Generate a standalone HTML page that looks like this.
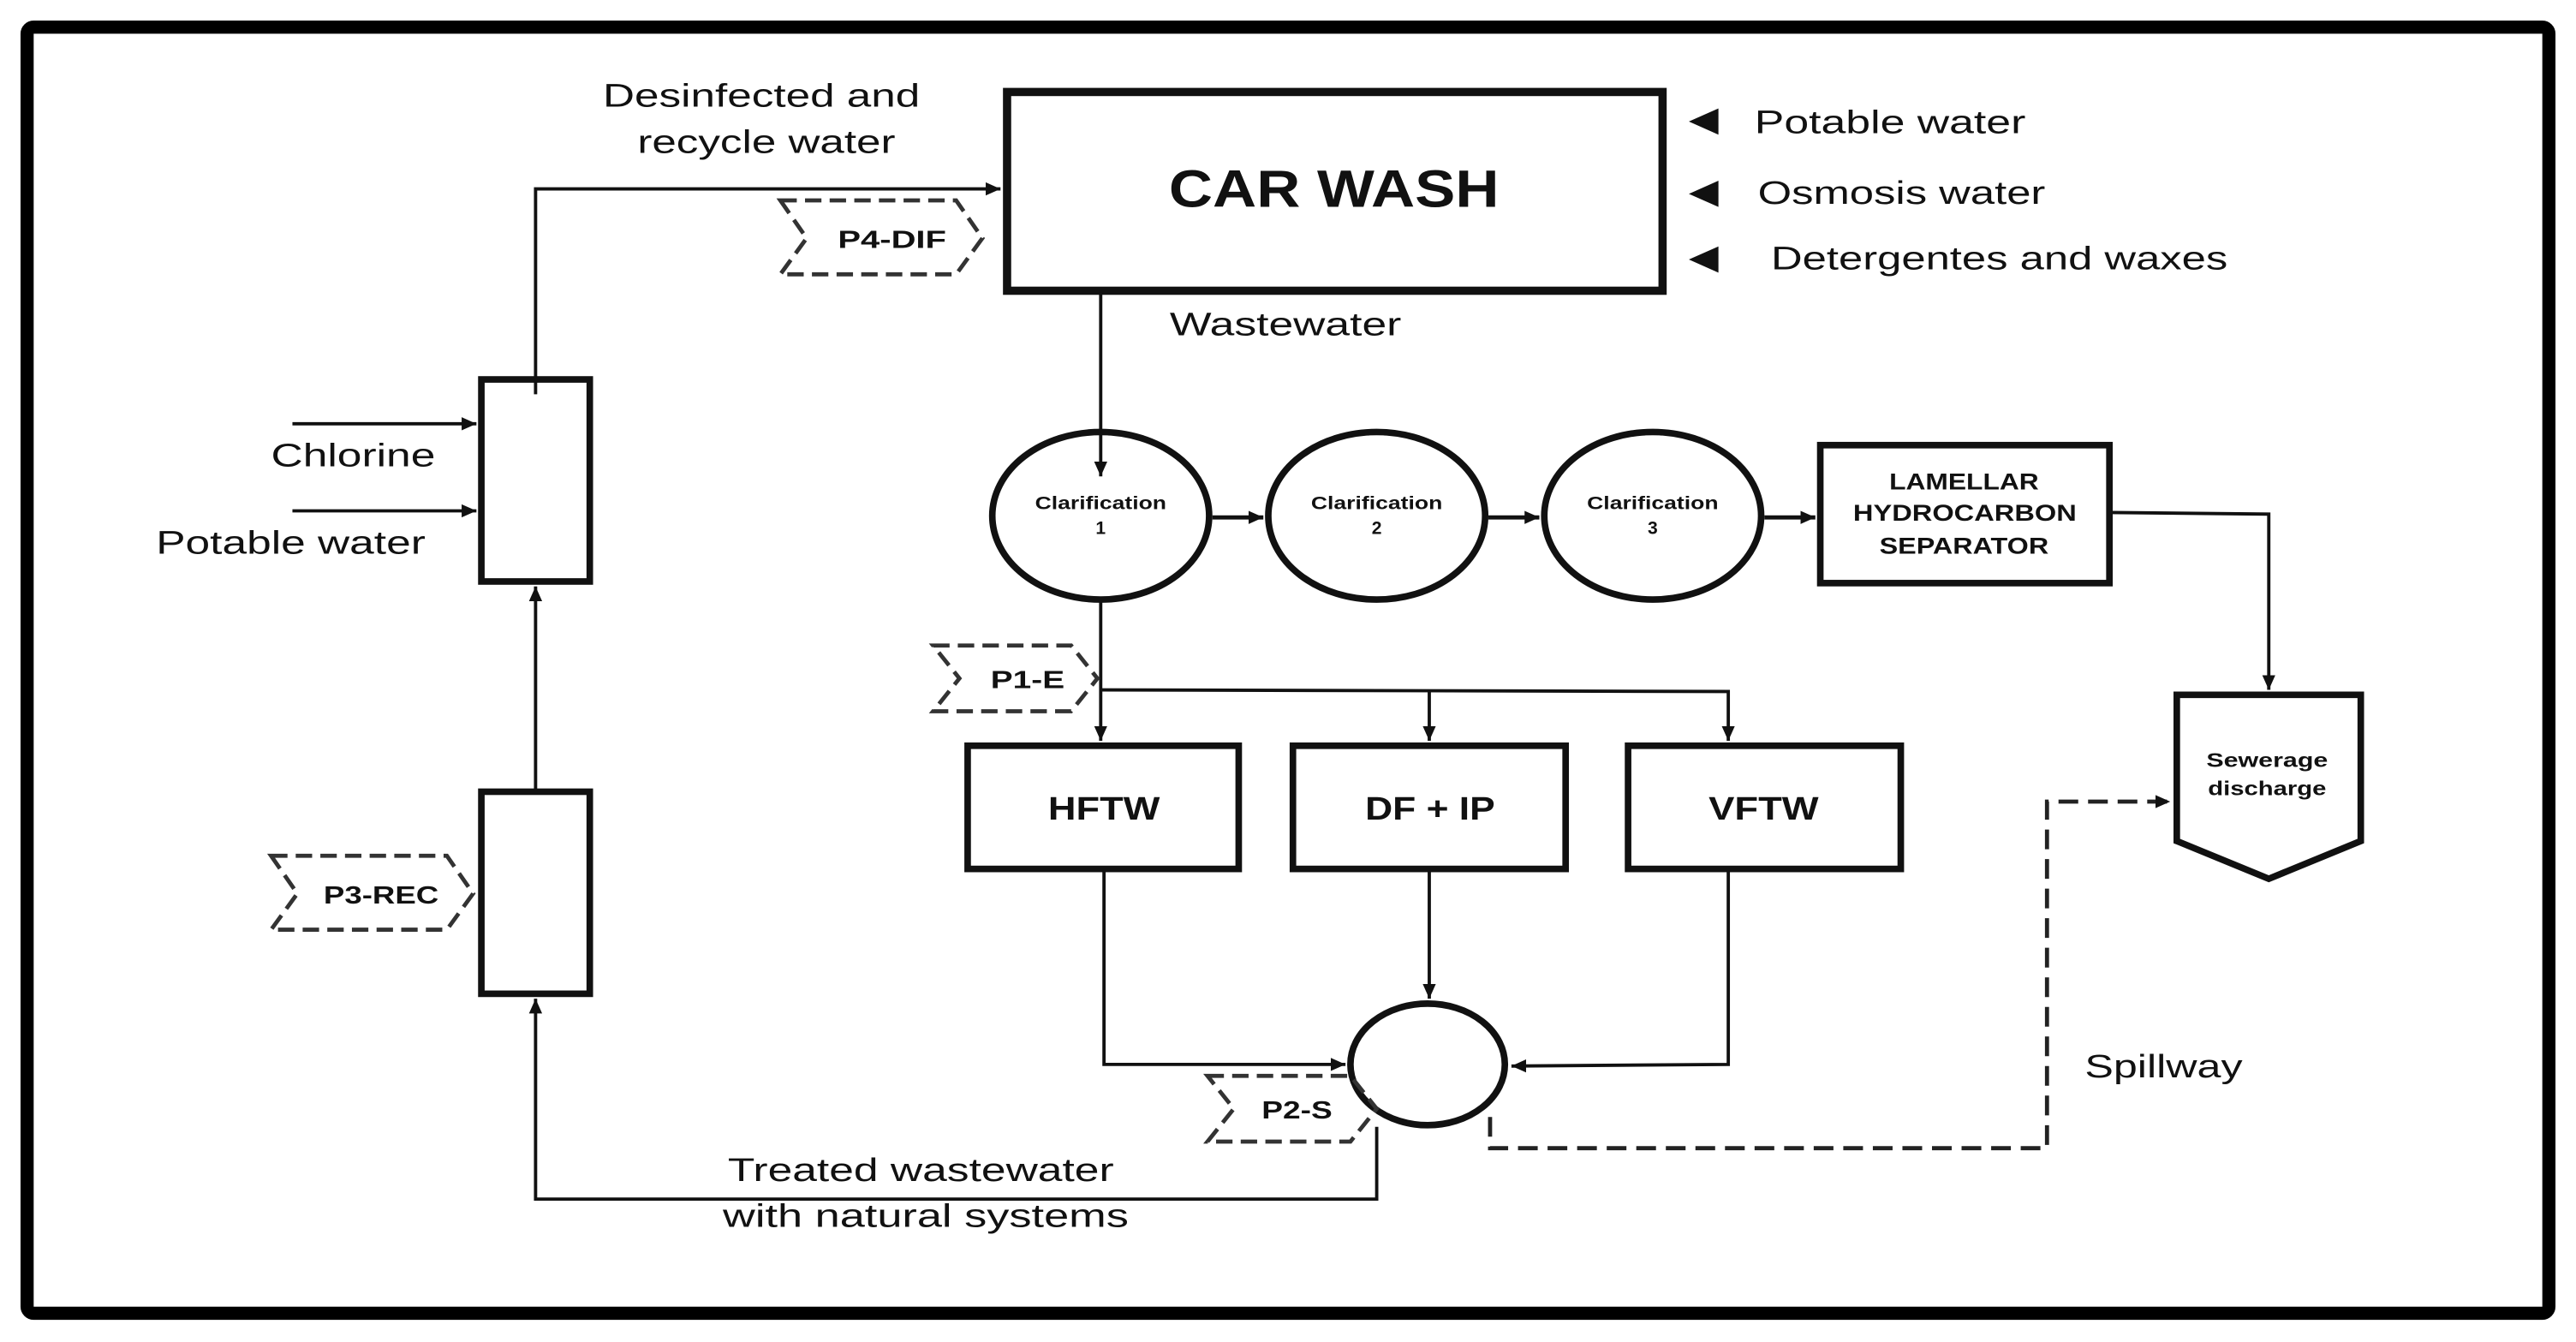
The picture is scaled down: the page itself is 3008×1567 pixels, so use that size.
<!DOCTYPE html>
<html><head><meta charset="utf-8"><style>
html,body{margin:0;padding:0;background:#fff;}
svg{display:block;}
text{font-family:"Liberation Sans",sans-serif;fill:#111;}
.b{font-weight:bold;}
</style></head><body>
<svg width="3008" height="1567" viewBox="0 0 1568 817" preserveAspectRatio="none" xmlns="http://www.w3.org/2000/svg">
<defs>
<marker id="a" markerWidth="10" markerHeight="10" refX="9" refY="5" orient="auto" markerUnits="userSpaceOnUse">
<path d="M0,1 L9,5 L0,9 Z" fill="#111"/></marker>
</defs>
<rect x="0" y="0" width="1568" height="817" fill="#fff"/>
<rect x="16.5" y="16.5" width="1535" height="783" rx="4" fill="none" stroke="#000" stroke-width="8"/>

<!-- CAR WASH -->
<rect x="613" y="56" width="399" height="121" fill="none" stroke="#111" stroke-width="5"/>
<text x="812" y="126" font-size="32" class="b" text-anchor="middle" textLength="201" lengthAdjust="spacingAndGlyphs">CAR WASH</text>
<path d="M1046,66 L1028,74 L1046,82 Z M1046,110 L1028,118 L1046,126 Z M1046,150 L1028,158 L1046,166 Z" fill="#111"/>
<text x="1068" y="81" font-size="20" textLength="165" lengthAdjust="spacingAndGlyphs">Potable water</text>
<text x="1070" y="124" font-size="20" textLength="175" lengthAdjust="spacingAndGlyphs">Osmosis water</text>
<text x="1078" y="164" font-size="20" textLength="278" lengthAdjust="spacingAndGlyphs">Detergentes and waxes</text>
<text x="367" y="65" font-size="20" textLength="193" lengthAdjust="spacingAndGlyphs">Desinfected and</text>
<text x="388" y="93" font-size="20" textLength="157" lengthAdjust="spacingAndGlyphs">recycle water</text>
<text x="712" y="204" font-size="20" textLength="141" lengthAdjust="spacingAndGlyphs">Wastewater</text>

<!-- recycle line -->
<polyline points="326,240 326,115 609,115" fill="none" stroke="#111" stroke-width="2" marker-end="url(#a)"/>
<polygon points="475,122 582,122 598,145 582,167 475,167 491,145" fill="none" stroke="#333" stroke-width="2.5" stroke-dasharray="10,5"/>
<text x="510" y="151" font-size="15" class="b" textLength="66" lengthAdjust="spacingAndGlyphs">P4-DIF</text>

<!-- chlorinator -->
<rect x="293" y="231" width="66" height="123" fill="none" stroke="#111" stroke-width="4"/>
<line x1="178" y1="258" x2="290" y2="258" stroke="#111" stroke-width="2" marker-end="url(#a)"/>
<line x1="178" y1="311" x2="290" y2="311" stroke="#111" stroke-width="2" marker-end="url(#a)"/>
<text x="165" y="284" font-size="20" textLength="100" lengthAdjust="spacingAndGlyphs">Chlorine</text>
<text x="95" y="337" font-size="20" textLength="164" lengthAdjust="spacingAndGlyphs">Potable water</text>

<!-- storage -->
<rect x="293" y="482" width="66" height="123" fill="none" stroke="#111" stroke-width="4"/>
<line x1="326" y1="482" x2="326" y2="357" stroke="#111" stroke-width="2" marker-end="url(#a)"/>
<polygon points="165,521 272,521 288,544 272,566 165,566 181,544" fill="none" stroke="#333" stroke-width="2.5" stroke-dasharray="10,5"/>
<text x="197" y="550" font-size="15" class="b" textLength="70" lengthAdjust="spacingAndGlyphs">P3-REC</text>

<polyline points="838,686 838,730 326,730 326,608" fill="none" stroke="#111" stroke-width="2" marker-end="url(#a)"/>
<text x="443" y="719" font-size="20" textLength="235" lengthAdjust="spacingAndGlyphs">Treated wastewater</text>
<text x="440" y="747" font-size="20" textLength="247" lengthAdjust="spacingAndGlyphs">with natural systems</text>

<line x1="670" y1="178" x2="670" y2="290" stroke="#111" stroke-width="2" marker-end="url(#a)"/>

<!-- clarifiers -->
<g fill="none" stroke="#111" stroke-width="4">
<ellipse cx="670" cy="314" rx="66" ry="51"/>
<ellipse cx="838" cy="314" rx="66" ry="51"/>
<ellipse cx="1006" cy="314" rx="66" ry="51"/>
</g>
<g font-size="11" class="b">
<text x="630" y="310" class="b" textLength="80" lengthAdjust="spacingAndGlyphs">Clarification</text><text x="670" y="325" class="b" text-anchor="middle">1</text>
<text x="798" y="310" class="b" textLength="80" lengthAdjust="spacingAndGlyphs">Clarification</text><text x="838" y="325" class="b" text-anchor="middle">2</text>
<text x="966" y="310" class="b" textLength="80" lengthAdjust="spacingAndGlyphs">Clarification</text><text x="1006" y="325" class="b" text-anchor="middle">3</text>
</g>
<g stroke="#111" stroke-width="2.5">
<line x1="738" y1="315" x2="769" y2="315" marker-end="url(#a)"/>
<line x1="906" y1="315" x2="937" y2="315" marker-end="url(#a)"/>
<line x1="1074" y1="315" x2="1105" y2="315" marker-end="url(#a)"/>
</g>

<!-- Lamellar -->
<rect x="1108" y="271" width="176" height="84" fill="none" stroke="#111" stroke-width="4"/>
<g font-size="14" class="b">
<text x="1150" y="298" class="b" textLength="91" lengthAdjust="spacingAndGlyphs">LAMELLAR</text>
<text x="1128" y="317" class="b" textLength="136" lengthAdjust="spacingAndGlyphs">HYDROCARBON</text>
<text x="1144" y="337" class="b" textLength="103" lengthAdjust="spacingAndGlyphs">SEPARATOR</text>
</g>
<polyline points="1285,312 1381,313 1381,420" fill="none" stroke="#111" stroke-width="2" marker-end="url(#a)"/>

<!-- Sewerage -->
<polygon points="1325,423 1437,423 1437,512 1381,535 1325,512" fill="none" stroke="#111" stroke-width="4"/>
<text x="1343" y="467" font-size="12" class="b" textLength="74" lengthAdjust="spacingAndGlyphs">Sewerage</text>
<text x="1344" y="484" font-size="12" class="b" textLength="72" lengthAdjust="spacingAndGlyphs">discharge</text>

<!-- P1-E branch -->
<line x1="670" y1="366" x2="670" y2="451" stroke="#111" stroke-width="2" marker-end="url(#a)"/>
<polyline points="670,420 1052,421 1052,451" fill="none" stroke="#111" stroke-width="2" marker-end="url(#a)"/>
<line x1="870" y1="421" x2="870" y2="451" stroke="#111" stroke-width="2" marker-end="url(#a)"/>
<polygon points="568,393 652,393 668,413 652,433 568,433 584,413" fill="none" stroke="#333" stroke-width="2.5" stroke-dasharray="10,5"/>
<text x="603" y="419" font-size="15" class="b" textLength="45" lengthAdjust="spacingAndGlyphs">P1-E</text>

<!-- wetlands -->
<g fill="none" stroke="#111" stroke-width="4">
<rect x="589" y="454" width="165" height="75"/>
<rect x="787" y="454" width="166" height="75"/>
<rect x="991" y="454" width="166" height="75"/>
</g>
<g font-size="20" class="b">
<text x="638" y="499" class="b" textLength="68" lengthAdjust="spacingAndGlyphs">HFTW</text>
<text x="831" y="499" class="b" textLength="79" lengthAdjust="spacingAndGlyphs">DF + IP</text>
<text x="1040" y="499" class="b" textLength="67" lengthAdjust="spacingAndGlyphs">VFTW</text>
</g>
<polyline points="672,530 672,648 819,648" fill="none" stroke="#111" stroke-width="2" marker-end="url(#a)"/>
<line x1="870" y1="530" x2="870" y2="608" stroke="#111" stroke-width="2" marker-end="url(#a)"/>
<polyline points="1052,530 1052,648 920,649" fill="none" stroke="#111" stroke-width="2" marker-end="url(#a)"/>
<ellipse cx="869" cy="648" rx="47" ry="37" fill="none" stroke="#111" stroke-width="4"/>
<polygon points="735,655 822,655 838,675 822,695 735,695 751,675" fill="none" stroke="#333" stroke-width="2.5" stroke-dasharray="10,5"/>
<text x="768" y="681" font-size="15" class="b" textLength="43" lengthAdjust="spacingAndGlyphs">P2-S</text>

<!-- spillway -->
<polyline points="907,680 907,699 1246,699 1246,488 1321,488" fill="none" stroke="#222" stroke-width="2.5" stroke-dasharray="12,6" marker-end="url(#a)"/>
<text x="1269" y="656" font-size="20" textLength="96" lengthAdjust="spacingAndGlyphs">Spillway</text>
</svg>
</body></html>
